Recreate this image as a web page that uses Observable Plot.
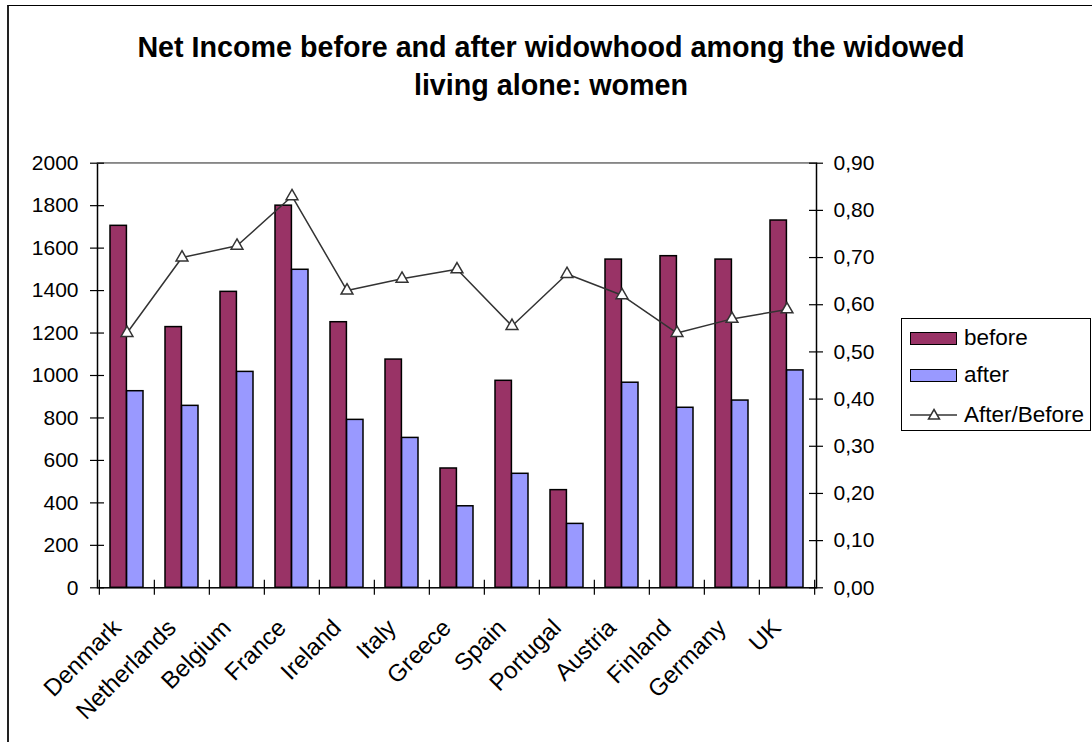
<!DOCTYPE html>
<html>
<head>
<meta charset="utf-8">
<script src="https://cdn.jsdelivr.net/npm/d3@7"></script>
<script src="https://cdn.jsdelivr.net/npm/@observablehq/plot@0.6"></script>
<style>
  html, body { margin: 0; padding: 0; background: #fff; }
  #page { position: relative; width: 1092px; height: 742px; overflow: hidden; font-family: "Liberation Sans", Arial, sans-serif; }
  #border { position: absolute; left: 7px; top: 5px; width: 1200px; height: 900px; border-left: 2px solid #222; border-top: 1px solid #000; }
  #title { position: absolute; left: 5px; top: 28px; width: 1092px; text-align: center; font-weight: bold; font-size: 28.7px; line-height: 38px; color: #000; }
  #chart { position: absolute; left: 0; top: 122px; }
  #legend { position: absolute; left: 901px; top: 318px; width: 188px; height: 111px; border: 1px solid #000; background: #fff; font-size: 22.5px; color: #000; }
  .row { position: absolute; left: 8px; height: 30px; display: flex; align-items: center; }
  .sw { width: 45px; height: 11px; border: 1.5px solid #000; margin-right: 7px; }
  .row span { line-height: 30px; }
</style>
</head>
<body>
<div id="page">
  <div id="border"></div>
  <div id="title">Net Income before and after widowhood among the widowed<br>living alone: women</div>
  <div id="chart"></div>
  <div id="legend">
    <div class="row" style="top:4px"><div class="sw" style="background:#993366"></div><span>before</span></div>
    <div class="row" style="top:41px"><div class="sw" style="background:#9999FF"></div><span>after</span></div>
    <div class="row" style="top:81px"><svg width="48" height="14" style="margin-right:6px"><line x1="0" y1="7" x2="47" y2="7" stroke="#333" stroke-width="1.5"/><path d="M24,1.5 L29.5,11 L18.5,11 Z" fill="#fff" stroke="#333" stroke-width="1.5"/></svg><span>After/Before</span></div>
  </div>
</div>
<script>
const countries = ["Denmark", "Netherlands", "Belgium", "France", "Ireland", "Italy", "Greece", "Spain", "Portugal", "Austria", "Finland", "Germany", "UK"];
const before = [1705, 1228, 1394, 1800, 1251, 1075, 562, 975, 460, 1546, 1562, 1546, 1730];
const after = [926, 857, 1017, 1498, 791, 706, 384, 537, 301, 966, 848, 882, 1024];
const ratio = [0.54, 0.70, 0.725, 0.83, 0.63, 0.655, 0.675, 0.555, 0.665, 0.62, 0.54, 0.57, 0.59];
const leftTicks = [0, 200, 400, 600, 800, 1000, 1200, 1400, 1600, 1800, 2000];
const rightTicks = [0, 0.1, 0.2, 0.3, 0.4, 0.5, 0.6, 0.7, 0.8, 0.9];

const data = countries.map((c, i) => ({country: c, before: before[i], after: after[i], ratio: ratio[i]}));

const W = 1092, H = 620, mT = 40.7, mB = 154.7, mL = 97, mR = 276;
const plotW = W - mL - mR, plotH = H - mT - mB;
const step = plotW / countries.length;
const bw = step * 0.6;
const K = 2000 / 0.9; // right axis (ratio) mapped onto the left scale

const chart = Plot.plot({
  width: W, height: H,
  marginTop: mT, marginBottom: mB, marginLeft: mL, marginRight: mR,
  x: {domain: countries, paddingInner: 0.4, paddingOuter: 0.2},
  y: {domain: [0, 2000]},
  style: {fontFamily: "'Liberation Sans', Arial, sans-serif", fontSize: "21px", color: "#000", background: "transparent", overflow: "visible"},
  marks: [
    Plot.barY(data, {x: "country", y: "before", fill: "#993366", stroke: "#000", strokeWidth: 1.5, insetRight: bw / 2}),
    Plot.barY(data, {x: "country", y: "after", fill: "#9999FF", stroke: "#000", strokeWidth: 1.5, insetLeft: bw / 2}),
    Plot.frame({stroke: "#000", strokeWidth: 1.5}),
    Plot.ruleY([2000], {stroke: "#999", strokeWidth: 1.5}),
    Plot.ruleY(leftTicks, {y: d => d, stroke: "#000", strokeWidth: 1.2, insetLeft: -7, insetRight: plotW - 7}),
    Plot.ruleY(rightTicks, {y: d => d * K, stroke: "#000", strokeWidth: 1.2, insetLeft: plotW - 7, insetRight: -7}),
    Plot.ruleX(countries, {x: d => d, dx: -step / 2, stroke: "#000", strokeWidth: 1.2, insetTop: plotH - 7.5, insetBottom: -7.5}),
    Plot.ruleX([countries[countries.length - 1]], {x: d => d, dx: step / 2, stroke: "#000", strokeWidth: 1.2, insetTop: plotH - 7.5, insetBottom: -7.5}),
    Plot.line(data, {x: "country", y: d => d.ratio * K, stroke: "#333", strokeWidth: 1.5}),
    Plot.dot(data, {x: "country", y: d => d.ratio * K, symbol: "triangle", r: 4.4, fill: "#fff", stroke: "#333", strokeWidth: 1.5}),
    Plot.axisY({anchor: "left", ticks: leftTicks, tickFormat: d => String(d), tickSize: 0, tickPadding: 19, label: null}),
    Plot.axisY({anchor: "right", ticks: rightTicks.map(v => v * K), tickFormat: d => (d / K).toFixed(2).replace(".", ","), tickSize: 0, tickPadding: 17, label: null}),
    Plot.axisX({tickSize: 0, tickRotate: -45, tickPadding: 36, dx: -10, label: null, fontSize: 24})
  ]
});
document.getElementById("chart").appendChild(chart);
</script>
</body>
</html>
